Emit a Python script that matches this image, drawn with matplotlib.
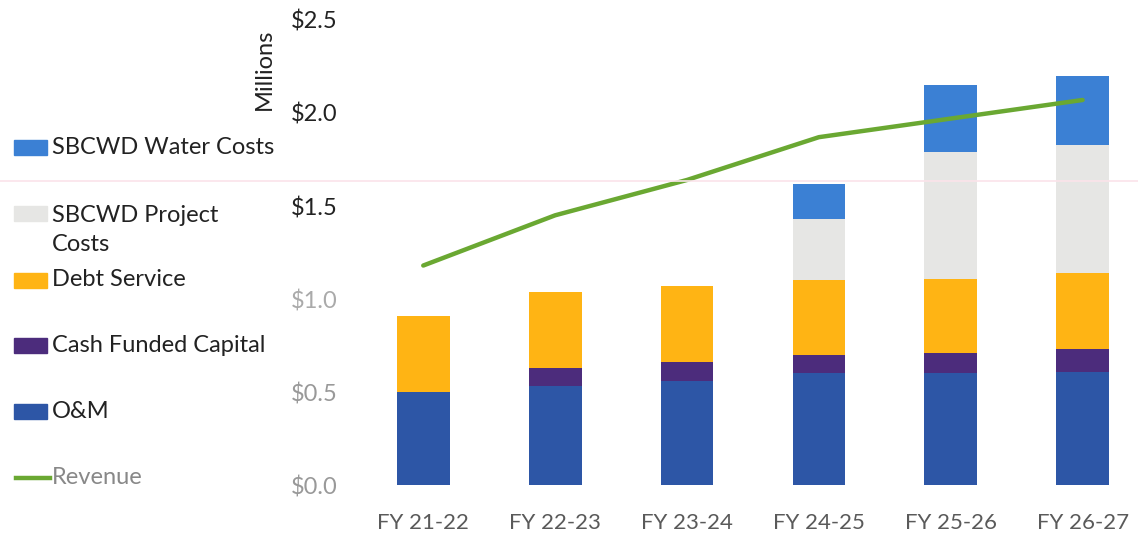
import matplotlib.pyplot as plt
from matplotlib.patches import Rectangle
from matplotlib.lines import Line2D
import numpy as np

plt.rcParams['font.family'] = ['Lato', 'DejaVu Sans']

years = ['FY 21-22', 'FY 22-23', 'FY 23-24', 'FY 24-25', 'FY 25-26', 'FY 26-27']
om = [0.50, 0.53, 0.56, 0.60, 0.60, 0.61]
cash_capital = [0.0, 0.10, 0.10, 0.10, 0.11, 0.12]
debt_service = [0.41, 0.41, 0.41, 0.40, 0.40, 0.41]
project_costs = [0.0, 0.0, 0.0, 0.33, 0.68, 0.69]
water_costs = [0.0, 0.0, 0.0, 0.19, 0.36, 0.37]
revenue = [1.18, 1.45, 1.64, 1.87, 1.97, 2.07]

c_om = '#2d56a6'
c_cash = '#4c2c7c'
c_debt = '#ffb414'
c_proj = '#e6e6e4'
c_water = '#3b80d4'
c_rev = '#6aa832'

fig = plt.figure(figsize=(11.38, 5.33), dpi=100)
ax = fig.add_axes([0.314, 0.09, 0.686, 0.8725])

x = np.arange(len(years))
w = 0.4
bottom = np.zeros(len(years))
for vals, col in [(om, c_om), (cash_capital, c_cash), (debt_service, c_debt),
                  (project_costs, c_proj), (water_costs, c_water)]:
    ax.bar(x, vals, w, bottom=bottom, color=col)
    bottom += np.array(vals)

ax.plot(x, revenue, color=c_rev, lw=3.2, solid_capstyle='round')

ax.set_xlim(-0.5, 5.42)
ax.set_ylim(0, 2.5)
ax.set_xticks(x)
ax.set_xticklabels(years, fontsize=16, color='#5a5a5a')
ax.set_yticks([0, 0.5, 1.0, 1.5, 2.0, 2.5])
ax.set_yticklabels(['$0.0', '$0.5', '$1.0', '$1.5', '$2.0', '$2.5'], fontsize=17)
for t, col in zip(ax.get_yticklabels(), ['#999999', '#999999', '#aaaaaa', '#222222', '#222222', '#222222']):
    t.set_color(col)
ax.tick_params(length=0, pad=14)
ax.tick_params(axis='x', pad=20)
for s in ax.spines.values():
    s.set_visible(False)

fig.text(0.232, 0.87, 'Millions', rotation=90, fontsize=17, ha='center', va='center', color='#222222')

# legend drawn at left
W, H = 1138, 533
entries = [
    ('SBCWD Water Costs', c_water, 147, 'patch', '#222222'),
    ('SBCWD Project\nCosts', c_proj, 230, 'patch', '#222222'),
    ('Debt Service', c_debt, 280, 'patch', '#222222'),
    ('Cash Funded Capital', c_cash, 345, 'patch', '#222222'),
    ('O&M', c_om, 411, 'patch', '#222222'),
    ('Revenue', c_rev, 478, 'line', '#888888'),
]
for label, col, yp, kind, tc in entries:
    yy = 1 - yp / H
    ymark = yy if '\n' not in label else 1 - 213 / H
    if kind == 'patch':
        fig.add_artist(Rectangle((14 / W, ymark - 8 / H), 33 / W, 15 / H,
                                 transform=fig.transFigure, color=col))
    else:
        fig.add_artist(Line2D([16 / W, 50 / W], [ymark, ymark], transform=fig.transFigure,
                              color=col, lw=3.2))
    fig.text(52 / W, yy, label, fontsize=17, va='center', ha='left', color=tc,
             linespacing=1.45)

# faint scan line
fig.add_artist(Line2D([0, 1], [1 - 181 / H, 1 - 181 / H], transform=fig.transFigure,
                      color='#fbe3ea', lw=1.2))

fig.savefig('out.png', dpi=100)
